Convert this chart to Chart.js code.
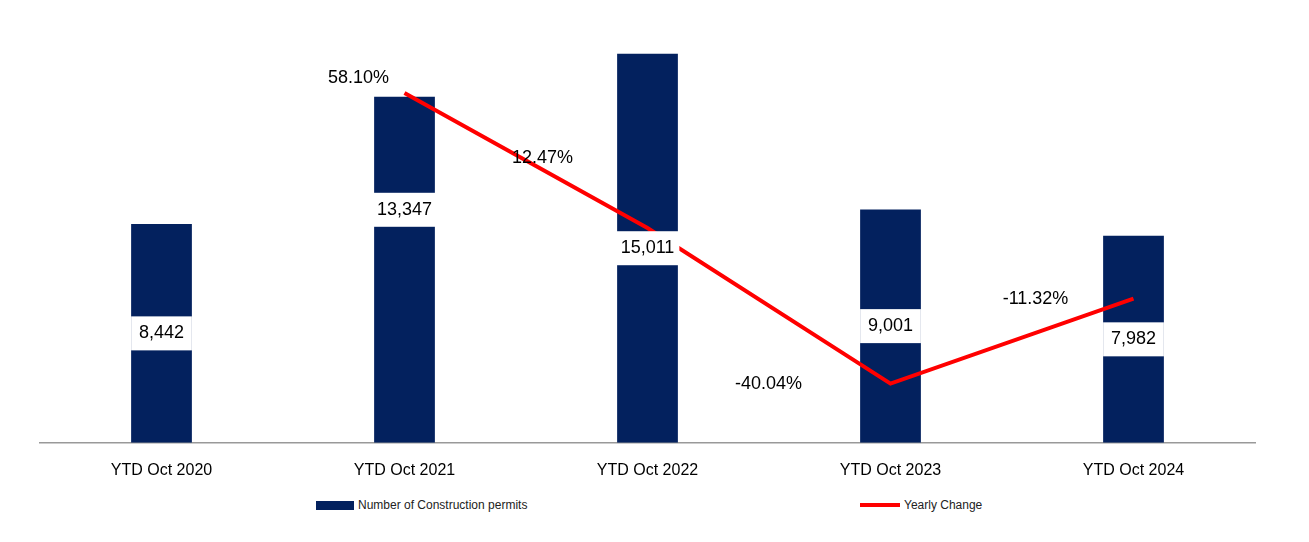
<!DOCTYPE html>
<html><head><meta charset="utf-8">
<script src="https://cdn.jsdelivr.net/npm/chart.js@4"></script>
<style>
body{margin:0;background:#fff;font-family:"Liberation Sans",Arial,sans-serif;}
#wrap{position:relative;width:1309px;height:490px;}
#legend{position:relative;height:52px;font-size:12px;color:#222;}
.lg{position:absolute;top:8px;display:flex;align-items:center;}
</style></head><body>
<div id="wrap"><canvas id="myChart"></canvas></div>
<div id="legend">
  <div class="lg" style="left:316px"><span style="display:inline-block;width:38px;height:9px;background:#03215E;margin-right:4px"></span>Number of Construction permits</div>
  <div class="lg" style="left:860px"><span style="display:inline-block;width:40px;height:4px;background:#FF0000;margin-right:4px"></span>Yearly Change</div>
</div>
<script>
const categories = ['YTD Oct 2020','YTD Oct 2021','YTD Oct 2022','YTD Oct 2023','YTD Oct 2024'];
const permits = [8442, 13347, 15011, 9001, 7982];
const yearlyChange = [null, 58.10, 12.47, -40.04, -11.32];

const labelPlugin = {
  id: 'labels',
  afterDatasetsDraw(chart) {
    const ctx = chart.ctx;
    ctx.save();
    ctx.font = '18px "Liberation Sans", Arial, sans-serif';
    ctx.textAlign = 'center';
    ctx.textBaseline = 'middle';
    chart.getDatasetMeta(0).data.forEach((bar, i) => {
      const txt = permits[i].toLocaleString('en-US');
      const y = (bar.y + bar.base) / 2 - (i === 1 ? 60 : 0);
      const w = Math.max(bar.width, ctx.measureText(txt).width + 10);
      ctx.fillStyle = '#fff';
      ctx.fillRect(bar.x - w / 2, y - 17, w, 34);
      ctx.fillStyle = '#000';
      ctx.fillText(txt, bar.x, y);
    });
    const dx = [0, 46, 105, 122, 98];
    const dy = [0, -15, -70, 0, 0];
    chart.getDatasetMeta(1).data.forEach((pt, i) => {
      if (yearlyChange[i] === null) return;
      const txt = yearlyChange[i].toFixed(2) + '%';
      ctx.fillStyle = '#000';
      ctx.fillText(txt, pt.x - dx[i], pt.y + dy[i]);
    });
    ctx.restore();
  }
};

new Chart(document.getElementById('myChart').getContext('2d'), {
  data: {
    labels: categories,
    datasets: [{
      type: 'bar',
      data: permits,
      backgroundColor: '#03215E',
      barPercentage: 0.25,
      categoryPercentage: 1,
      yAxisID: 'y',
      order: 2
    }, {
      type: 'line',
      data: yearlyChange,
      borderColor: '#FF0000',
      borderWidth: 4,
      pointRadius: 0,
      tension: 0,
      yAxisID: 'y2',
      order: 1
    }]
  },
  options: {
    responsive: true,
    maintainAspectRatio: false,
    animation: false,
    layout: { padding: { left: 40, right: 54, top: 28, bottom: 0 } },
    plugins: { legend: { display: false }, tooltip: { enabled: false } },
    scales: {
      x: {
        grid: { display: false },
        border: { color: '#999', width: 1.5 },
        ticks: { color: '#000', font: { size: 16, family: '"Liberation Sans", Arial' }, padding: 10 }
      },
      y: { display: false, min: 0, max: 16000 },
      y2: { display: false, min: -60, max: 80 }
    }
  },
  plugins: [labelPlugin]
});
</script>
</body></html>
